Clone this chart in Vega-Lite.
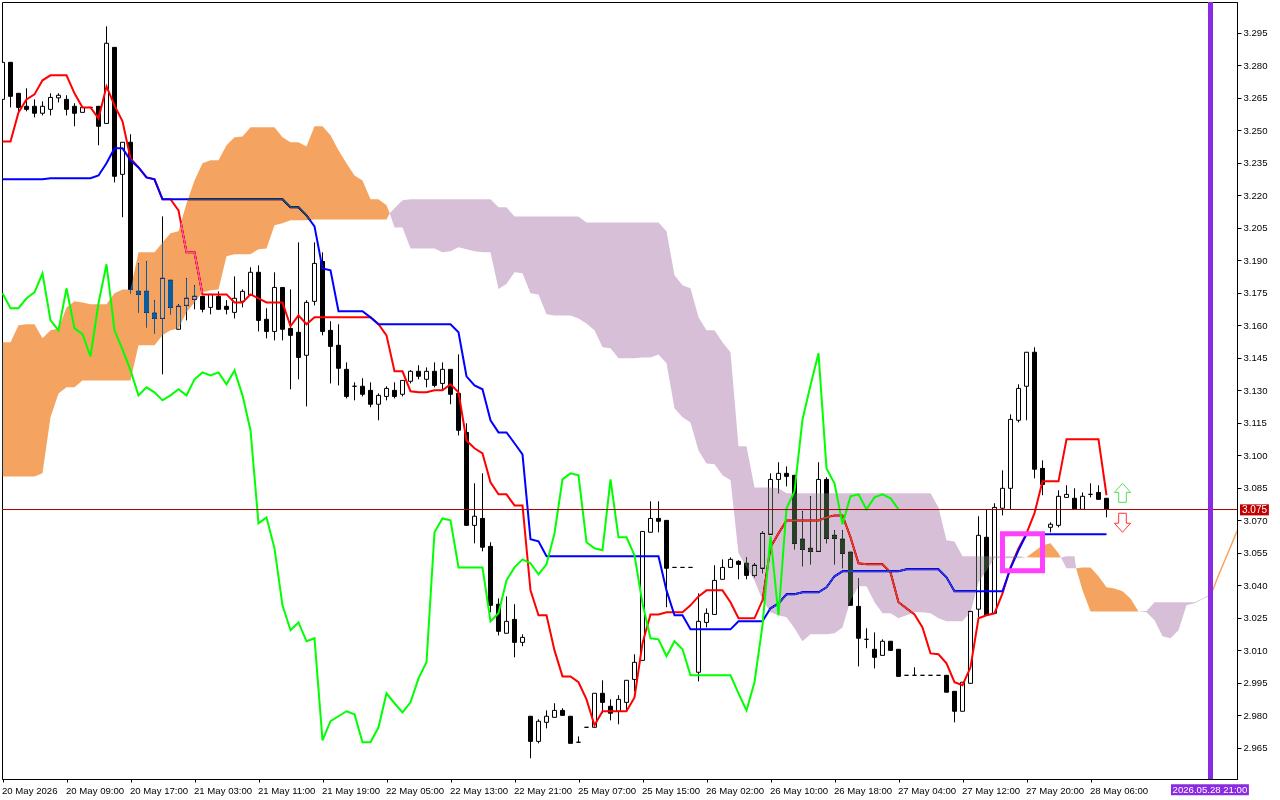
{
"$schema":"https://vega.github.io/schema/vega-lite/v6.json",
"autosize":{"type":"none"},
"padding":{"left":2,"right":43,"top":2,"bottom":21},
"width":1235,"height":777,
"background":"#ffffff",
"config":{"view":{"stroke":"#000000","strokeWidth":1},"axis":{"labelFont":"Liberation Sans","labelFontSize":9.6,"labelColor":"#000000","tickColor":"#000000","domainColor":"#000000","grid":false,"title":null,"labelOverlap":false,"labelBound":false,"labelFlush":false}},
"datasets":{
"bars":[
{"i":0,"o":3.2643,"h":3.2814,"l":3.2643,"c":3.2814,"t":3.2449,"k":3.2274,"g":3.1748},
{"i":1,"o":3.2814,"h":3.2814,"l":3.2606,"c":3.2657,"t":3.2449,"k":3.2274,"g":3.1679},
{"i":2,"o":3.2671,"h":3.2671,"l":3.2583,"c":3.2606,"t":3.2583,"k":3.2274,"g":3.1679},
{"i":3,"o":3.2611,"h":3.2694,"l":3.2588,"c":3.2597,"t":3.2643,"k":3.2274,"g":3.1725},
{"i":4,"o":3.2611,"h":3.2643,"l":3.256,"c":3.2579,"t":3.2666,"k":3.2274,"g":3.1752},
{"i":5,"o":3.2579,"h":3.2634,"l":3.2569,"c":3.2611,"t":3.2731,"k":3.2274,"g":3.184},
{"i":6,"o":3.2597,"h":3.2671,"l":3.2569,"c":3.2652,"t":3.2754,"k":3.2279,"g":3.1623},
{"i":7,"o":3.265,"h":3.2671,"l":3.2629,"c":3.2662,"t":3.2754,"k":3.2279,"g":3.1577},
{"i":8,"o":3.2643,"h":3.2662,"l":3.2569,"c":3.2597,"t":3.2754,"k":3.2279,"g":3.1771},
{"i":9,"o":3.2611,"h":3.2625,"l":3.2519,"c":3.2579,"t":3.2671,"k":3.2279,"g":3.1586},
{"i":10,"o":3.2583,"h":3.2606,"l":3.2583,"c":3.2606,"t":3.2606,"k":3.2279,"g":3.1559},
{"i":11,"o":3.2606,"h":3.2606,"l":3.2606,"c":3.2606,"t":3.2606,"k":3.2279,"g":3.1457},
{"i":12,"o":3.2611,"h":3.2611,"l":3.2431,"c":3.2519,"t":3.2555,"k":3.2292,"g":3.1702},
{"i":13,"o":3.2532,"h":3.298,"l":3.2532,"c":3.2902,"t":3.2703,"k":3.2348,"g":3.1882},
{"i":14,"o":3.2883,"h":3.2883,"l":3.226,"c":3.2288,"t":3.2615,"k":3.2417,"g":3.1577},
{"i":15,"o":3.2297,"h":3.2445,"l":3.2099,"c":3.2445,"t":3.2542,"k":3.2417,"g":3.1489},
{"i":16,"o":3.2445,"h":3.2482,"l":3.1748,"c":3.1766,"t":3.2371,"k":3.2362,"g":3.1392},
{"i":17,"o":3.1757,"h":3.1886,"l":3.166,"c":3.1743,"t":3.2329,"k":3.2329,"g":3.1277},
{"i":18,"o":3.1757,"h":3.1895,"l":3.1591,"c":3.166,"t":3.2283,"k":3.2283,"g":3.1314},
{"i":19,"o":3.1656,"h":3.1716,"l":3.1563,"c":3.1632,"t":3.2274,"k":3.2274,"g":3.1291},
{"i":20,"o":3.1632,"h":3.2103,"l":3.1374,"c":3.1817,"t":3.2182,"k":3.2182,"g":3.1254},
{"i":21,"o":3.1808,"h":3.1808,"l":3.1651,"c":3.1683,"t":3.2182,"k":3.2182,"g":3.1277},
{"i":22,"o":3.1582,"h":3.1697,"l":3.1582,"c":3.1688,"t":3.2131,"k":3.2182,"g":3.1305},
{"i":23,"o":3.1692,"h":3.1817,"l":3.1623,"c":3.1725,"t":3.1937,"k":3.2182,"g":3.1277},
{"i":24,"o":3.172,"h":3.1785,"l":3.1674,"c":3.1734,"t":3.1937,"k":3.2182,"g":3.1351},
{"i":25,"o":3.1734,"h":3.1734,"l":3.166,"c":3.1674,"t":3.1743,"k":3.2182,"g":3.1383},
{"i":26,"o":3.1683,"h":3.1743,"l":3.1651,"c":3.1743,"t":3.1743,"k":3.2182,"g":3.1369},
{"i":27,"o":3.1734,"h":3.1757,"l":3.1674,"c":3.1674,"t":3.1743,"k":3.2182,"g":3.1383},
{"i":28,"o":3.1688,"h":3.1716,"l":3.1651,"c":3.1674,"t":3.1743,"k":3.2182,"g":3.1328},
{"i":29,"o":3.166,"h":3.1826,"l":3.1632,"c":3.1725,"t":3.1706,"k":3.2182,"g":3.1392},
{"i":30,"o":3.1711,"h":3.1766,"l":3.1683,"c":3.1757,"t":3.1706,"k":3.2182,"g":3.1277},
{"i":31,"o":3.1739,"h":3.1868,"l":3.1739,"c":3.1845,"t":3.1743,"k":3.2182,"g":3.1116},
{"i":32,"o":3.1845,"h":3.1877,"l":3.1572,"c":3.1623,"t":3.1725,"k":3.2182,"g":3.0686},
{"i":33,"o":3.1628,"h":3.1679,"l":3.154,"c":3.1572,"t":3.1706,"k":3.2182,"g":3.0714},
{"i":34,"o":3.1572,"h":3.1845,"l":3.1531,"c":3.1775,"t":3.1706,"k":3.2182,"g":3.0571},
{"i":35,"o":3.1775,"h":3.1775,"l":3.1531,"c":3.1582,"t":3.1706,"k":3.2182,"g":3.0308},
{"i":36,"o":3.1586,"h":3.1766,"l":3.1305,"c":3.1554,"t":3.1596,"k":3.2145,"g":3.0193},
{"i":37,"o":3.1568,"h":3.1983,"l":3.1351,"c":3.1452,"t":3.1646,"k":3.2145,"g":3.0229},
{"i":38,"o":3.1462,"h":3.1716,"l":3.1226,"c":3.1706,"t":3.1605,"k":3.2108,"g":3.0142},
{"i":39,"o":3.1711,"h":3.1983,"l":3.1692,"c":3.1886,"t":3.1637,"k":3.2057,"g":3.0156},
{"i":40,"o":3.1895,"h":3.1937,"l":3.1554,"c":3.1572,"t":3.1637,"k":3.1863,"g":2.9685},
{"i":41,"o":3.1577,"h":3.1619,"l":3.1332,"c":3.1503,"t":3.1637,"k":3.1854,"g":2.9773},
{"i":42,"o":3.1508,"h":3.1605,"l":3.1323,"c":3.1402,"t":3.1637,"k":3.1665,"g":2.9796},
{"i":43,"o":3.1397,"h":3.1429,"l":3.1263,"c":3.1272,"t":3.1637,"k":3.1665,"g":2.9819},
{"i":44,"o":3.1319,"h":3.1337,"l":3.1254,"c":3.1319,"t":3.1637,"k":3.1665,"g":2.9805},
{"i":45,"o":3.1319,"h":3.1356,"l":3.1272,"c":3.1282,"t":3.1637,"k":3.1665,"g":2.9676},
{"i":46,"o":3.13,"h":3.1337,"l":3.1222,"c":3.1236,"t":3.1637,"k":3.1637,"g":2.9676},
{"i":47,"o":3.1236,"h":3.1286,"l":3.1162,"c":3.1277,"t":3.1605,"k":3.1605,"g":2.9745},
{"i":48,"o":3.1272,"h":3.1319,"l":3.1254,"c":3.1309,"t":3.1554,"k":3.1605,"g":2.9902},
{"i":49,"o":3.13,"h":3.1337,"l":3.1263,"c":3.1272,"t":3.1388,"k":3.1605,"g":2.9856},
{"i":50,"o":3.1282,"h":3.1346,"l":3.1272,"c":3.1346,"t":3.1388,"k":3.1605,"g":2.9814},
{"i":51,"o":3.1342,"h":3.1393,"l":3.1332,"c":3.1388,"t":3.1296,"k":3.1605,"g":2.986},
{"i":52,"o":3.1388,"h":3.1416,"l":3.1351,"c":3.1365,"t":3.1291,"k":3.1605,"g":2.9971},
{"i":53,"o":3.1351,"h":3.1406,"l":3.1314,"c":3.1388,"t":3.1291,"k":3.1605,"g":3.0045},
{"i":54,"o":3.1388,"h":3.1429,"l":3.1314,"c":3.1323,"t":3.13,"k":3.1605,"g":3.0645},
{"i":55,"o":3.1332,"h":3.1429,"l":3.13,"c":3.1397,"t":3.13,"k":3.1605,"g":3.0709},
{"i":56,"o":3.1397,"h":3.1397,"l":3.1236,"c":3.1282,"t":3.1328,"k":3.1605,"g":3.07},
{"i":57,"o":3.1286,"h":3.1466,"l":3.1092,"c":3.1116,"t":3.1291,"k":3.1568,"g":3.0483},
{"i":58,"o":3.1106,"h":3.1148,"l":3.0677,"c":3.0677,"t":3.1069,"k":3.1365,"g":3.0483},
{"i":59,"o":3.0677,"h":3.0871,"l":3.0594,"c":3.0719,"t":3.1033,"k":3.1323,"g":3.0483},
{"i":60,"o":3.0709,"h":3.0917,"l":3.0557,"c":3.0576,"t":3.1009,"k":3.1305,"g":3.0483},
{"i":61,"o":3.058,"h":3.0599,"l":3.0276,"c":3.0308,"t":3.0876,"k":3.1162,"g":3.0234},
{"i":62,"o":3.0313,"h":3.034,"l":3.0169,"c":3.0188,"t":3.082,"k":3.1106,"g":3.0271},
{"i":63,"o":3.0179,"h":3.0349,"l":3.0179,"c":3.0234,"t":3.082,"k":3.1106,"g":3.0423},
{"i":64,"o":3.0243,"h":3.0313,"l":3.0068,"c":3.0137,"t":3.0769,"k":3.1056,"g":3.0483},
{"i":65,"o":3.0137,"h":3.0174,"l":3.0119,"c":3.016,"t":3.0769,"k":3.1005,"g":3.052},
{"i":66,"o":2.9796,"h":2.9796,"l":2.9602,"c":2.968,"t":3.0377,"k":3.0613,"g":3.0502},
{"i":67,"o":2.968,"h":2.9782,"l":2.9671,"c":2.9773,"t":3.0262,"k":3.0603,"g":3.0451},
{"i":68,"o":2.9768,"h":2.9823,"l":2.974,"c":2.9796,"t":3.0262,"k":3.0534,"g":3.0497},
{"i":69,"o":2.9791,"h":2.9856,"l":2.9791,"c":2.9823,"t":3.01,"k":3.0534,"g":3.064},
{"i":70,"o":2.9823,"h":2.9833,"l":2.98,"c":2.98,"t":2.998,"k":3.0534,"g":3.0889},
{"i":71,"o":2.9796,"h":2.9796,"l":2.9671,"c":2.9671,"t":2.998,"k":3.0534,"g":3.0917},
{"i":72,"o":2.9676,"h":2.9703,"l":2.9676,"c":2.9676,"t":2.9953,"k":3.0534,"g":3.0908},
{"i":73,"o":2.9745,"h":2.9745,"l":2.9745,"c":2.9745,"t":2.9874,"k":3.0534,"g":3.0599},
{"i":74,"o":2.9745,"h":2.9902,"l":2.9745,"c":2.9902,"t":2.9754,"k":3.0534,"g":3.0571},
{"i":75,"o":2.9902,"h":2.9962,"l":2.981,"c":2.986,"t":2.9819,"k":3.0534,"g":3.0562},
{"i":76,"o":2.9842,"h":2.9874,"l":2.9777,"c":2.981,"t":2.9819,"k":3.0534,"g":3.0889},
{"i":77,"o":2.9819,"h":2.9893,"l":2.9759,"c":2.9874,"t":2.9819,"k":3.0534,"g":3.0622},
{"i":78,"o":2.986,"h":2.9962,"l":2.9819,"c":2.9962,"t":2.9819,"k":3.0534,"g":3.0622},
{"i":79,"o":2.9966,"h":3.0082,"l":2.9911,"c":3.0045,"t":2.9883,"k":3.0534,"g":3.0539},
{"i":80,"o":3.0054,"h":3.0649,"l":3.0054,"c":3.0649,"t":3.0133,"k":3.0534,"g":3.0317},
{"i":81,"o":3.0645,"h":3.0788,"l":3.0645,"c":3.0709,"t":3.0266,"k":3.0534,"g":3.0156},
{"i":82,"o":3.0709,"h":3.0788,"l":3.0645,"c":3.0696,"t":3.0266,"k":3.0534,"g":3.0151},
{"i":83,"o":3.07,"h":3.07,"l":3.0299,"c":3.0479,"t":3.0276,"k":3.0377,"g":3.0073},
{"i":84,"o":3.0483,"h":3.0483,"l":3.0483,"c":3.0483,"t":3.0276,"k":3.0262,"g":3.0142},
{"i":85,"o":3.0483,"h":3.0483,"l":3.0483,"c":3.0483,"t":3.0276,"k":3.0262,"g":3.0105},
{"i":86,"o":3.0483,"h":3.0483,"l":3.0483,"c":3.0483,"t":3.0308,"k":3.0197,"g":2.9985},
{"i":87,"o":2.9999,"h":3.0363,"l":2.9957,"c":3.0234,"t":3.0349,"k":3.0197,"g":2.9985},
{"i":88,"o":3.0229,"h":3.0294,"l":3.0206,"c":3.0271,"t":3.0377,"k":3.0197,"g":2.9985},
{"i":89,"o":3.0266,"h":3.0493,"l":3.0266,"c":3.0423,"t":3.0377,"k":3.0197,"g":2.9985},
{"i":90,"o":3.0428,"h":3.052,"l":3.0428,"c":3.0483,"t":3.0377,"k":3.0197,"g":2.9985},
{"i":91,"o":3.0483,"h":3.0529,"l":3.0483,"c":3.052,"t":3.0322,"k":3.0197,"g":2.9985},
{"i":92,"o":3.0511,"h":3.0516,"l":3.0428,"c":3.0497,"t":3.0248,"k":3.0234,"g":2.9902},
{"i":93,"o":3.0502,"h":3.0529,"l":3.0428,"c":3.0446,"t":3.0248,"k":3.0234,"g":2.9823},
{"i":94,"o":3.0446,"h":3.0502,"l":3.0437,"c":3.0493,"t":3.0248,"k":3.0234,"g":2.9953},
{"i":95,"o":3.0479,"h":3.0649,"l":3.0456,"c":3.064,"t":3.0331,"k":3.0234,"g":3.0216},
{"i":96,"o":3.0636,"h":3.0917,"l":3.0636,"c":3.0889,"t":3.0576,"k":3.0294,"g":3.0626},
{"i":97,"o":3.0889,"h":3.0968,"l":3.0825,"c":3.0917,"t":3.064,"k":3.0317,"g":3.0262},
{"i":98,"o":3.0917,"h":3.0949,"l":3.0857,"c":3.0903,"t":3.07,"k":3.0359,"g":3.0756},
{"i":99,"o":3.0908,"h":3.0908,"l":3.0566,"c":3.0594,"t":3.07,"k":3.0359,"g":3.0834},
{"i":100,"o":3.0613,"h":3.0742,"l":3.0488,"c":3.0566,"t":3.07,"k":3.0368,"g":3.1166},
{"i":101,"o":3.0571,"h":3.0811,"l":3.0497,"c":3.0557,"t":3.07,"k":3.0368,"g":3.1323},
{"i":102,"o":3.0557,"h":3.0968,"l":3.0557,"c":3.0889,"t":3.07,"k":3.0368,"g":3.1471},
{"i":103,"o":3.0889,"h":3.0899,"l":3.0594,"c":3.0617,"t":3.0714,"k":3.0391,"g":3.094},
{"i":104,"o":3.0631,"h":3.0654,"l":3.0497,"c":3.0617,"t":3.0723,"k":3.0442,"g":3.0871},
{"i":105,"o":3.0613,"h":3.0654,"l":3.0479,"c":3.0548,"t":3.0723,"k":3.0465,"g":3.0682},
{"i":106,"o":3.0553,"h":3.0553,"l":3.0308,"c":3.0308,"t":3.0622,"k":3.0465,"g":3.0811},
{"i":107,"o":3.0303,"h":3.0432,"l":3.0026,"c":3.0156,"t":3.0502,"k":3.0465,"g":3.082},
{"i":108,"o":3.0151,"h":3.0202,"l":3.011,"c":3.0151,"t":3.0497,"k":3.0465,"g":3.0751},
{"i":109,"o":3.0105,"h":3.0183,"l":3.0017,"c":3.0068,"t":3.0497,"k":3.0465,"g":3.0806},
{"i":110,"o":3.0077,"h":3.0151,"l":3.0077,"c":3.0142,"t":3.0497,"k":3.0465,"g":3.082},
{"i":111,"o":3.0142,"h":3.0142,"l":3.01,"c":3.01,"t":3.046,"k":3.0465,"g":3.0802},
{"i":112,"o":3.0105,"h":3.0105,"l":2.998,"c":2.998,"t":3.0322,"k":3.0465,"g":3.0751},
{"i":113,"o":2.9985,"h":2.9985,"l":2.9985,"c":2.9985,"t":3.0294,"k":3.0474},
{"i":114,"o":2.9985,"h":3.0022,"l":2.9985,"c":2.9985,"t":3.0266,"k":3.0474},
{"i":115,"o":2.9985,"h":2.9985,"l":2.9985,"c":2.9985,"t":3.0206,"k":3.0474},
{"i":116,"o":2.9985,"h":2.9985,"l":2.9985,"c":2.9985,"t":3.0086,"k":3.0474},
{"i":117,"o":2.9985,"h":2.9985,"l":2.9985,"c":2.9985,"t":3.0082,"k":3.0474},
{"i":118,"o":2.9985,"h":2.9985,"l":2.9907,"c":2.9907,"t":3.004,"k":3.0437},
{"i":119,"o":2.9911,"h":2.9911,"l":2.9768,"c":2.9819,"t":2.9953,"k":3.0373},
{"i":120,"o":2.9819,"h":2.9953,"l":2.9819,"c":2.9953,"t":2.9939,"k":3.0373},
{"i":121,"o":2.9948,"h":3.028,"l":2.9948,"c":3.028,"t":3.0022,"k":3.0373},
{"i":122,"o":3.029,"h":3.0719,"l":3.0253,"c":3.0631,"t":3.0248,"k":3.0373},
{"i":123,"o":3.0622,"h":3.0751,"l":3.0262,"c":3.0262,"t":3.0262,"k":3.0373},
{"i":124,"o":3.0271,"h":3.0779,"l":3.0271,"c":3.076,"t":3.0271,"k":3.0373},
{"i":125,"o":3.0756,"h":3.0931,"l":3.0723,"c":3.0848,"t":3.0363,"k":3.0373},
{"i":126,"o":3.0848,"h":3.1189,"l":3.0751,"c":3.1166,"t":3.0483,"k":3.0479},
{"i":127,"o":3.1162,"h":3.1328,"l":3.1152,"c":3.1309,"t":3.0571,"k":3.0562},
{"i":128,"o":3.1319,"h":3.1476,"l":3.1162,"c":3.1476,"t":3.064,"k":3.0636},
{"i":129,"o":3.1476,"h":3.1499,"l":3.0894,"c":3.0936,"t":3.0733,"k":3.0636},
{"i":130,"o":3.094,"h":3.0977,"l":3.0816,"c":3.0866,"t":3.088,"k":3.0636},
{"i":131,"o":3.0668,"h":3.0691,"l":3.0645,"c":3.0682,"t":3.088,"k":3.0636},
{"i":132,"o":3.0677,"h":3.0839,"l":3.0668,"c":3.0811,"t":3.088,"k":3.0636},
{"i":133,"o":3.0806,"h":3.0862,"l":3.0806,"c":3.082,"t":3.1074,"k":3.0636},
{"i":134,"o":3.0802,"h":3.0848,"l":3.0751,"c":3.0751,"t":3.1074,"k":3.0636},
{"i":135,"o":3.0751,"h":3.0829,"l":3.0751,"c":3.0811,"t":3.1074,"k":3.0636},
{"i":136,"o":3.082,"h":3.0871,"l":3.0806,"c":3.082,"t":3.1074,"k":3.0636},
{"i":137,"o":3.0829,"h":3.0862,"l":3.0797,"c":3.0797,"t":3.1074,"k":3.0636},
{"i":138,"o":3.0802,"h":3.0802,"l":3.0714,"c":3.0751,"t":3.0816,"k":3.0636}
],
"cloud":[
{"i":0,"s":1,"kind":"up","a":3.1522,"b":3.0903},{"i":1,"s":1,"kind":"up","a":3.1522,"b":3.0903},{"i":2,"s":1,"kind":"up","a":3.16,"b":3.0903},{"i":3,"s":1,"kind":"up","a":3.1605,"b":3.0903},{"i":4,"s":1,"kind":"up","a":3.1605,"b":3.0903},{"i":5,"s":1,"kind":"up","a":3.154,"b":3.0917},{"i":6,"s":1,"kind":"up","a":3.1577,"b":3.1176},{"i":7,"s":1,"kind":"up","a":3.1586,"b":3.1286},{"i":8,"s":1,"kind":"up","a":3.1683,"b":3.1314},{"i":9,"s":1,"kind":"up","a":3.1711,"b":3.1314},
{"i":10,"s":1,"kind":"up","a":3.1706,"b":3.1346},{"i":11,"s":1,"kind":"up","a":3.1697,"b":3.1346},{"i":12,"s":1,"kind":"up","a":3.1697,"b":3.1346},{"i":13,"s":1,"kind":"up","a":3.1697,"b":3.1346},{"i":14,"s":1,"kind":"up","a":3.1748,"b":3.1346},{"i":15,"s":1,"kind":"up","a":3.1766,"b":3.1346},{"i":16,"s":1,"kind":"up","a":3.1766,"b":3.1346},{"i":17,"s":1,"kind":"up","a":3.1937,"b":3.1508},{"i":18,"s":1,"kind":"up","a":3.1937,"b":3.1508},{"i":19,"s":1,"kind":"up","a":3.1937,"b":3.1508},
{"i":20,"s":1,"kind":"up","a":3.1983,"b":3.1554},{"i":21,"s":1,"kind":"up","a":3.2025,"b":3.1577},{"i":22,"s":1,"kind":"up","a":3.2034,"b":3.1586},{"i":23,"s":1,"kind":"up","a":3.2163,"b":3.166},{"i":24,"s":1,"kind":"up","a":3.2269,"b":3.1706},{"i":25,"s":1,"kind":"up","a":3.2348,"b":3.1752},{"i":26,"s":1,"kind":"up","a":3.2362,"b":3.1762},{"i":27,"s":1,"kind":"up","a":3.2362,"b":3.1766},{"i":28,"s":1,"kind":"up","a":3.2431,"b":3.1919},{"i":29,"s":1,"kind":"up","a":3.2468,"b":3.1928},
{"i":30,"s":1,"kind":"up","a":3.2472,"b":3.1928},{"i":31,"s":1,"kind":"up","a":3.2514,"b":3.1928},{"i":32,"s":1,"kind":"up","a":3.2514,"b":3.1951},{"i":33,"s":1,"kind":"up","a":3.2514,"b":3.1955},{"i":34,"s":1,"kind":"up","a":3.2514,"b":3.2062},{"i":35,"s":1,"kind":"up","a":3.2468,"b":3.2071},{"i":36,"s":1,"kind":"up","a":3.2445,"b":3.2085},{"i":37,"s":1,"kind":"up","a":3.2445,"b":3.2085},{"i":38,"s":1,"kind":"up","a":3.2426,"b":3.2085},{"i":39,"s":1,"kind":"up","a":3.2519,"b":3.2089},
{"i":40,"s":1,"kind":"up","a":3.2519,"b":3.2089},{"i":41,"s":1,"kind":"up","a":3.2477,"b":3.2089},{"i":42,"s":1,"kind":"up","a":3.2408,"b":3.2089},{"i":43,"s":1,"kind":"up","a":3.2348,"b":3.2089},{"i":44,"s":1,"kind":"up","a":3.2292,"b":3.2089},{"i":45,"s":1,"kind":"up","a":3.2269,"b":3.2089},{"i":46,"s":1,"kind":"up","a":3.2182,"b":3.2089},{"i":47,"s":1,"kind":"up","a":3.2182,"b":3.2089},{"i":48,"s":1,"kind":"up","a":3.2154,"b":3.2089},{"i":48.4,"s":1,"kind":"up","a":3.2117,"b":3.2117},
{"i":48.4,"s":2,"kind":"down","a":3.2117,"b":3.2117},{"i":49,"s":2,"kind":"down","a":3.214,"b":3.2052},{"i":50,"s":2,"kind":"down","a":3.2177,"b":3.2052},{"i":51,"s":2,"kind":"down","a":3.2182,"b":3.1955},{"i":52,"s":2,"kind":"down","a":3.2182,"b":3.1955},{"i":53,"s":2,"kind":"down","a":3.2182,"b":3.1955},{"i":54,"s":2,"kind":"down","a":3.2182,"b":3.1955},{"i":55,"s":2,"kind":"down","a":3.2182,"b":3.1937},{"i":56,"s":2,"kind":"down","a":3.2182,"b":3.1942},{"i":57,"s":2,"kind":"down","a":3.2182,"b":3.196},{"i":58,"s":2,"kind":"down","a":3.2182,"b":3.1951},{"i":59,"s":2,"kind":"down","a":3.2182,"b":3.1942},
{"i":60,"s":2,"kind":"down","a":3.2182,"b":3.1937},{"i":61,"s":2,"kind":"down","a":3.2182,"b":3.1937},{"i":62,"s":2,"kind":"down","a":3.2145,"b":3.1768},{"i":63,"s":2,"kind":"down","a":3.2145,"b":3.1791},{"i":64,"s":2,"kind":"down","a":3.2103,"b":3.1845},{"i":65,"s":2,"kind":"down","a":3.2103,"b":3.184},{"i":66,"s":2,"kind":"down","a":3.2103,"b":3.1748},{"i":67,"s":2,"kind":"down","a":3.2103,"b":3.1743},{"i":68,"s":2,"kind":"down","a":3.2103,"b":3.1651},{"i":69,"s":2,"kind":"down","a":3.2103,"b":3.1646},
{"i":70,"s":2,"kind":"down","a":3.2103,"b":3.1646},{"i":71,"s":2,"kind":"down","a":3.2103,"b":3.1646},{"i":72,"s":2,"kind":"down","a":3.2103,"b":3.1632},{"i":73,"s":2,"kind":"down","a":3.2075,"b":3.1609},{"i":74,"s":2,"kind":"down","a":3.2075,"b":3.1577},{"i":75,"s":2,"kind":"down","a":3.2075,"b":3.1499},{"i":76,"s":2,"kind":"down","a":3.2075,"b":3.1494},{"i":77,"s":2,"kind":"down","a":3.2075,"b":3.1448},{"i":78,"s":2,"kind":"down","a":3.2075,"b":3.1448},{"i":79,"s":2,"kind":"down","a":3.2075,"b":3.1448},
{"i":80,"s":2,"kind":"down","a":3.2075,"b":3.1452},{"i":81,"s":2,"kind":"down","a":3.2075,"b":3.1452},{"i":82,"s":2,"kind":"down","a":3.2075,"b":3.1466},{"i":83,"s":2,"kind":"down","a":3.2034,"b":3.1425},{"i":84,"s":2,"kind":"down","a":3.1831,"b":3.1217},{"i":85,"s":2,"kind":"down","a":3.1785,"b":3.1176},{"i":86,"s":2,"kind":"down","a":3.1771,"b":3.1152},{"i":87,"s":2,"kind":"down","a":3.1637,"b":3.1023},{"i":88,"s":2,"kind":"down","a":3.1577,"b":3.0963},{"i":89,"s":2,"kind":"down","a":3.1577,"b":3.0959},
{"i":90,"s":2,"kind":"down","a":3.1522,"b":3.0908},{"i":91,"s":2,"kind":"down","a":3.1476,"b":3.0885},{"i":92,"s":2,"kind":"down","a":3.1042,"b":3.0548},{"i":93,"s":2,"kind":"down","a":3.1042,"b":3.0483},{"i":94,"s":2,"kind":"down","a":3.0852,"b":3.0423},{"i":95,"s":2,"kind":"down","a":3.0852,"b":3.0331},{"i":96,"s":2,"kind":"down","a":3.0852,"b":3.0276},{"i":97,"s":2,"kind":"down","a":3.0848,"b":3.0262},{"i":98,"s":2,"kind":"down","a":3.0825,"b":3.0253},{"i":99,"s":2,"kind":"down","a":3.0825,"b":3.0202},
{"i":100,"s":2,"kind":"down","a":3.0825,"b":3.0142},{"i":101,"s":2,"kind":"down","a":3.0825,"b":3.0174},{"i":102,"s":2,"kind":"down","a":3.0825,"b":3.0174},{"i":103,"s":2,"kind":"down","a":3.0825,"b":3.0174},{"i":104,"s":2,"kind":"down","a":3.0825,"b":3.0179},{"i":105,"s":2,"kind":"down","a":3.0825,"b":3.0206},{"i":106,"s":2,"kind":"down","a":3.0825,"b":3.0331},{"i":107,"s":2,"kind":"down","a":3.0825,"b":3.0396},{"i":108,"s":2,"kind":"down","a":3.0825,"b":3.0396},{"i":109,"s":2,"kind":"down","a":3.0825,"b":3.0322},
{"i":110,"s":2,"kind":"down","a":3.0825,"b":3.0271},{"i":111,"s":2,"kind":"down","a":3.0825,"b":3.0271},{"i":112,"s":2,"kind":"down","a":3.0825,"b":3.0248},{"i":113,"s":2,"kind":"down","a":3.0825,"b":3.0262},{"i":114,"s":2,"kind":"down","a":3.0825,"b":3.0276},{"i":115,"s":2,"kind":"down","a":3.0825,"b":3.0276},{"i":116,"s":2,"kind":"down","a":3.0825,"b":3.0271},{"i":117,"s":2,"kind":"down","a":3.076,"b":3.0248},{"i":118,"s":2,"kind":"down","a":3.0608,"b":3.0234},{"i":119,"s":2,"kind":"down","a":3.0603,"b":3.0234},
{"i":120,"s":2,"kind":"down","a":3.0534,"b":3.0234},{"i":121,"s":2,"kind":"down","a":3.0534,"b":3.0276},{"i":122,"s":2,"kind":"down","a":3.0534,"b":3.0414},{"i":123,"s":2,"kind":"down","a":3.0534,"b":3.0469},{"i":124,"s":2,"kind":"down","a":3.0534,"b":3.0525},{"i":125,"s":2,"kind":"down","a":3.0534,"b":3.0525},{"i":126,"s":2,"kind":"down","a":3.0534,"b":3.0525},{"i":127,"s":2,"kind":"down","a":3.0534,"b":3.0525},{"i":128,"s":2,"kind":"down","a":3.053,"b":3.053},
{"i":128,"s":3,"kind":"up","a":3.053,"b":3.053},{"i":129,"s":3,"kind":"up","a":3.0557,"b":3.0529},{"i":130,"s":3,"kind":"up","a":3.0585,"b":3.0529},{"i":131,"s":3,"kind":"up","a":3.0594,"b":3.0529},{"i":132,"s":3,"kind":"up","a":3.0548,"b":3.0529},{"i":132.3,"s":3,"kind":"up","a":3.0529,"b":3.0529},
{"i":132.3,"s":4,"kind":"down","a":3.0529,"b":3.0529},{"i":133,"s":4,"kind":"down","a":3.0534,"b":3.0479},{"i":134,"s":4,"kind":"down","a":3.0534,"b":3.0479},{"i":134.2,"s":4,"kind":"down","a":3.0479,"b":3.0479},
{"i":134.2,"s":5,"kind":"up","a":3.0479,"b":3.0479},{"i":135,"s":5,"kind":"up","a":3.0483,"b":3.0377},{"i":136,"s":5,"kind":"up","a":3.0483,"b":3.028},{"i":137,"s":5,"kind":"up","a":3.0442,"b":3.028},{"i":138,"s":5,"kind":"up","a":3.0391,"b":3.028},{"i":139,"s":5,"kind":"up","a":3.0386,"b":3.028},{"i":140,"s":5,"kind":"up","a":3.0373,"b":3.028},{"i":141,"s":5,"kind":"up","a":3.034,"b":3.028},{"i":142,"s":5,"kind":"up","a":3.028,"b":3.028},
{"i":142,"s":6,"kind":"down","a":3.028,"b":3.028},{"i":143,"s":6,"kind":"down","a":3.0282,"b":3.0276},{"i":144,"s":6,"kind":"down","a":3.0322,"b":3.0239},{"i":145,"s":6,"kind":"down","a":3.0322,"b":3.0165},{"i":146,"s":6,"kind":"down","a":3.0322,"b":3.0156},{"i":147,"s":6,"kind":"down","a":3.0322,"b":3.0193},{"i":148,"s":6,"kind":"down","a":3.0322,"b":3.0308},{"i":149,"s":6,"kind":"down","a":3.0322,"b":3.0317},{"i":150,"s":6,"kind":"down","a":3.034,"b":3.0336},{"i":151,"s":6,"kind":"down","a":3.0359,"b":3.0355},
{"i":151,"s":7,"kind":"up","a":3.0359,"b":3.0341},{"i":152,"s":7,"kind":"up","a":3.0456,"b":3.0438},{"i":153,"s":7,"kind":"up","a":3.0543,"b":3.0525},{"i":154,"s":7,"kind":"up","a":3.0631,"b":3.0613},{"i":154.3,"s":7,"kind":"up","a":3.0659,"b":3.0641}
]
},
"data":{"name":"bars"},
"encoding":{"x":{"field":"i","type":"quantitative","scale":{"domain":[-0.0625,154.3125],"nice":false,"zero":false,"padding":0},"axis":{"orient":"bottom","values":[0,8,16,24,32,40,48,56,64,72,80,88,96,104,112,120,128,136],"tickCount":30,"labelAlign":"left","labelBaseline":"top","labelPadding":3,"labelOffset":-1,"tickSize":3,"labelOverlap":false,"labelFlush":false,"labelExpr":"['20 May 2026','20 May 09:00','20 May 17:00','21 May 03:00','21 May 11:00','21 May 19:00','22 May 05:00','22 May 13:00','22 May 21:00','25 May 07:00','25 May 15:00','26 May 02:00','26 May 10:00','26 May 18:00','27 May 04:00','27 May 12:00','27 May 20:00','28 May 06:00'][datum.value/8]"}}},
"layer":[
{"mark":{"type":"rule","color":"#000000","strokeWidth":1},"encoding":{"y":{"field":"l","type":"quantitative","scale":{"domain":[2.95064,3.30924],"nice":false,"zero":false},"axis":{"orient":"right","values":[3.295,3.28,3.265,3.25,3.235,3.22,3.205,3.19,3.175,3.16,3.145,3.13,3.115,3.1,3.085,3.07,3.055,3.04,3.025,3.01,2.995,2.98,2.965],"tickCount":30,"format":".3f","tickSize":4,"labelPadding":2,"labelOverlap":false,"labelFlush":false,"title":null}},"y2":{"field":"h"}}},
{"mark":{"type":"bar","size":4,"orient":"vertical","stroke":"#000000","strokeWidth":1,"clip":true},"encoding":{"y":{"field":"o","type":"quantitative","scale":{"domain":[2.95064,3.30924],"nice":false,"zero":false}},"y2":{"field":"c"},"fill":{"condition":{"test":"datum.c >= datum.o","value":"#ffffff"},"value":"#000000"}}},
{"mark":{"type":"line","color":"#ff0000","strokeWidth":2},"encoding":{"y":{"field":"t","type":"quantitative","scale":{"domain":[2.95064,3.30924],"nice":false,"zero":false}}}},
{"mark":{"type":"line","color":"#0000ff","strokeWidth":2},"encoding":{"y":{"field":"k","type":"quantitative","scale":{"domain":[2.95064,3.30924],"nice":false,"zero":false}}}},
{"data":{"name":"cloud"},"mark":{"type":"area","orient":"vertical","blend":"difference","opacity":1},"encoding":{"y":{"field":"a","type":"quantitative","scale":{"domain":[2.95064,3.30924],"nice":false,"zero":false}},"y2":{"field":"b"},"detail":{"field":"s","type":"nominal"},"fill":{"field":"kind","type":"nominal","legend":null,"scale":{"domain":["up","down"],"range":["#0B5B9F","#274027"]}}}},
{"mark":{"type":"line","color":"#00ff00","strokeWidth":2},"encoding":{"y":{"field":"g","type":"quantitative","scale":{"domain":[2.95064,3.30924],"nice":false,"zero":false}}}},
{"data":{"values":[{"i":-0.0625,"i2":154.3125,"price":3.075}]},"mark":{"type":"rule","color":"#a50000","strokeWidth":1},"encoding":{"x2":{"field":"i2"},"y":{"field":"price","type":"quantitative","scale":{"domain":[2.95064,3.30924],"nice":false,"zero":false}}}},
{"data":{"values":[{"i":125,"i2":130,"top":3.0638,"bottom":3.0467}]},"mark":{"type":"rect","fillOpacity":0,"fill":"#ffffff","stroke":"#ff40ff","strokeWidth":5},"encoding":{"x2":{"field":"i2"},"y":{"field":"top","type":"quantitative","scale":{"domain":[2.95064,3.30924],"nice":false,"zero":false}},"y2":{"field":"bottom"}}},
{"data":{"values":[{"i":140,"price":3.0827}]},"mark":{"type":"point","shape":"M0,-1L0.85,-0.05L0.4,-0.05L0.4,1L-0.4,1L-0.4,-0.05L-0.85,-0.05Z","size":361,"filled":false,"fill":"#ffffff","fillOpacity":1,"stroke":"#55dd55","strokeWidth":1,"opacity":1},"encoding":{"y":{"field":"price","type":"quantitative","scale":{"domain":[2.95064,3.30924],"nice":false,"zero":false}}}},
{"data":{"values":[{"i":140,"price":3.0689}]},"mark":{"type":"point","shape":"M0,1L0.85,0.05L0.4,0.05L0.4,-1L-0.4,-1L-0.4,0.05L-0.85,0.05Z","size":361,"filled":false,"fill":"#ffffff","fillOpacity":1,"stroke":"#ff3333","strokeWidth":1,"opacity":1},"encoding":{"y":{"field":"price","type":"quantitative","scale":{"domain":[2.95064,3.30924],"nice":false,"zero":false}}}},
{"data":{"values":[{"i":151}]},"mark":{"type":"rule","color":"#8a2be2","strokeWidth":5},"encoding":{}},
{"data":{"values":[{"i":154.69,"i2":158.3,"top":3.0774,"bottom":3.0723}]},"mark":{"type":"rect","color":"#c00000"},"encoding":{"x2":{"field":"i2"},"y":{"field":"top","type":"quantitative","scale":{"domain":[2.95064,3.30924],"nice":false,"zero":false}},"y2":{"field":"bottom"}}},
{"data":{"values":[{"i":156.5,"price":3.0749,"label":"3.075"}]},"mark":{"type":"text","color":"#ffffff","font":"Liberation Sans","fontSize":10,"align":"center","baseline":"middle"},"encoding":{"y":{"field":"price","type":"quantitative","scale":{"domain":[2.95064,3.30924],"nice":false,"zero":false}},"text":{"field":"label"}}},
{"data":{"values":[{"i":146.06,"i2":155.8,"top":2.9482,"bottom":2.9431}]},"mark":{"type":"rect","color":"#8a2be2"},"encoding":{"x2":{"field":"i2"},"y":{"field":"top","type":"quantitative","scale":{"domain":[2.95064,3.30924],"nice":false,"zero":false}},"y2":{"field":"bottom"}}},
{"data":{"values":[{"i":150.93,"price":2.9456,"label":"2026.05.28 21:00"}]},"mark":{"type":"text","color":"#ffffff","font":"Liberation Sans","fontSize":9.6,"align":"center","baseline":"middle"},"encoding":{"y":{"field":"price","type":"quantitative","scale":{"domain":[2.95064,3.30924],"nice":false,"zero":false}},"text":{"field":"label"}}}
]
}
